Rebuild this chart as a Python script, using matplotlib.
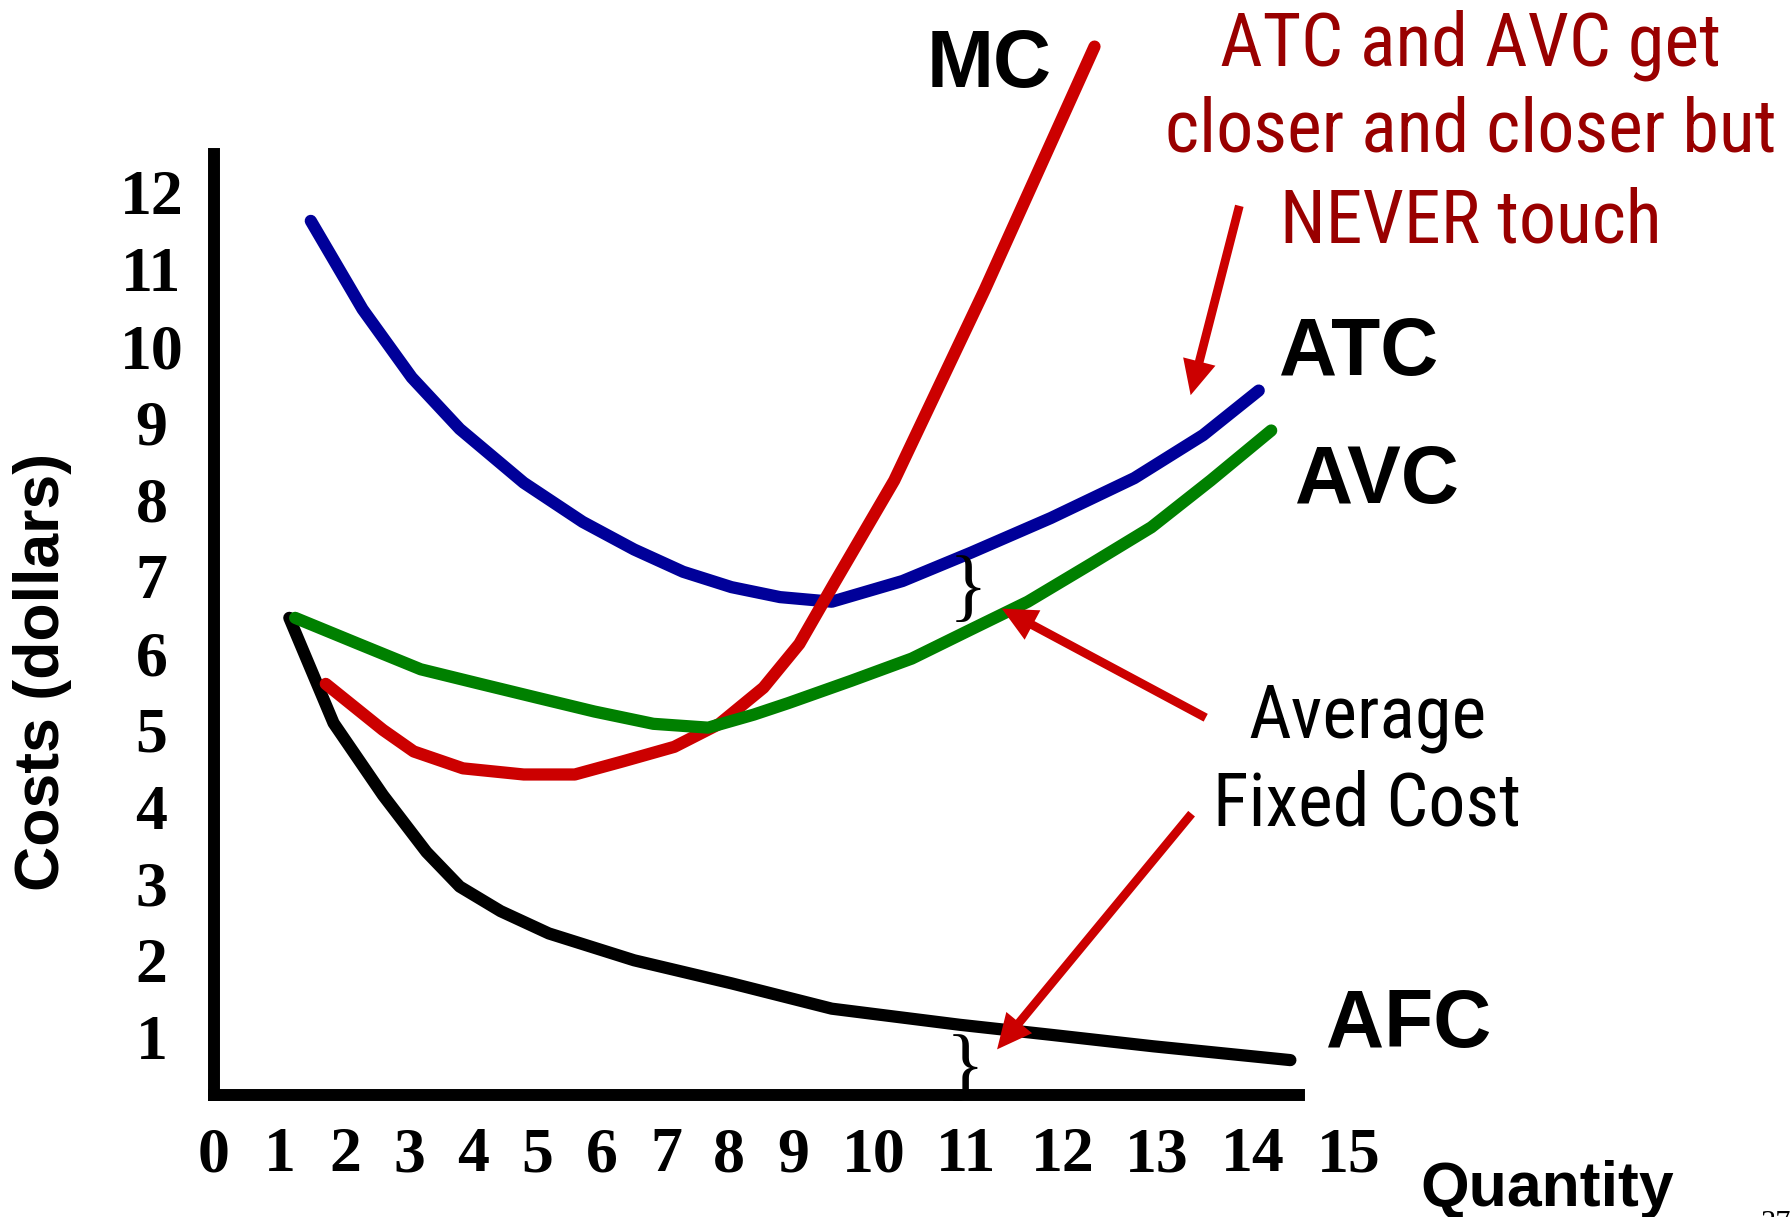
import numpy as np
import matplotlib
matplotlib.use('Agg')
import matplotlib.pyplot as plt
from matplotlib import font_manager

# quantity ticks are printed unevenly along the axis, so the x scale follows them
QTY_TICKS = list(range(16))
QTY_SPACING = [0, 58, 115, 171, 227, 283, 340, 396, 451, 507, 578, 659, 743, 826, 910, 994]
COST_TICKS = list(range(1, 13))

atc_q = [1.47, 2.27, 3.04, 3.79, 4.79, 5.70, 6.50, 7.27, 8.04, 8.80, 9.48, 10.31, 11.05, 11.88, 12.76, 13.48, 14.06]
atc_c = [11.63, 10.48, 9.59, 8.92, 8.22, 7.71, 7.35, 7.06, 6.86, 6.73, 6.67, 6.94, 7.31, 7.76, 8.28, 8.84, 9.42]

avc_q = [1.23, 2.18, 3.18, 4.11, 5.0, 5.88, 6.80, 7.67, 8.39, 8.93, 9.72, 10.41, 11.05, 11.64, 12.30, 12.94, 13.56, 14.19]
avc_c = [6.46, 6.13, 5.79, 5.60, 5.42, 5.24, 5.08, 5.03, 5.20, 5.35, 5.64, 5.93, 6.31, 6.67, 7.16, 7.64, 8.25, 8.90]

mc_q = [1.70, 2.59, 3.07, 3.84, 4.79, 5.58, 6.32, 7.13, 7.85, 8.54, 9.08, 9.51, 10.22, 11.19, 12.34]
mc_c = [5.60, 5.00, 4.72, 4.50, 4.42, 4.42, 4.59, 4.78, 5.08, 5.55, 6.12, 6.91, 8.25, 10.73, 13.90]

afc_q = [1.14, 1.82, 2.59, 3.27, 3.79, 4.43, 5.18, 6.50, 8.04, 9.48, 10.93, 11.88, 12.96, 14.39]
afc_c = [6.46, 5.09, 4.15, 3.41, 2.96, 2.64, 2.35, 2.00, 1.70, 1.37, 1.16, 1.03, 0.88, 0.70]

note_lines = ['ATC and AVC get', 'closer and closer but', 'NEVER touch']
afc_note = ['Average', 'Fixed Cost']

RED = '#cc0000'
DARK_RED = '#990000'
SERIF = ['Liberation Serif', 'DejaVu Serif']
BOLD_SANS = ['Liberation Sans', 'DejaVu Sans']


def pick_narrow():
    # prefer a condensed face for the notes, else plain sans squeezed to width
    names = {f.name for f in font_manager.fontManager.ttflist}
    for name in ('Liberation Sans Narrow', 'Arial Narrow', 'Roboto Condensed',
                 'DejaVu Sans Condensed'):
        if name in names:
            return name, 'normal'
    for f in font_manager.fontManager.ttflist:
        if f.name == 'DejaVu Sans' and f.stretch == 'condensed':
            return 'DejaVu Sans', 'condensed'
    return 'Liberation Sans', 'normal'


NARROW, NARROW_STRETCH = pick_narrow()


def fwd(q):
    return np.interp(q, QTY_TICKS, QTY_SPACING)


def inv(p):
    return np.interp(p, QTY_SPACING, QTY_TICKS)


fig = plt.figure(figsize=(17.92, 12.17), dpi=100)
ax = fig.add_axes([0.1194, 0.1002, 0.6055, 0.7732])
ax.set_xscale('function', functions=(fwd, inv))
ax.set_xlim(0, 14.48)
ax.set_ylim(0.245, 12.5)

line_kw = dict(lw=8.8, solid_capstyle='round', solid_joinstyle='round', clip_on=False)
ax.plot(afc_q, afc_c, color='black', **line_kw)
ax.plot(atc_q, atc_c, color='#000099', **line_kw)
ax.plot(mc_q, mc_c, color=RED, **line_kw)
ax.plot(avc_q, avc_c, color='#008000', **line_kw)

for side in ('top', 'right'):
    ax.spines[side].set_visible(False)
for side in ('left', 'bottom'):
    ax.spines[side].set_linewidth(8.6)

XPAD = 23
ax.set_xticks(QTY_TICKS[:-1])
ax.set_xticklabels([str(q) for q in QTY_TICKS[:-1]])
ax.set_yticks(COST_TICKS)
ax.set_yticklabels([str(c) for c in COST_TICKS])
ax.tick_params(length=0, labelsize=46)
ax.tick_params(axis='x', pad=XPAD)
ax.tick_params(axis='y', pad=45)
for lab in ax.get_xticklabels() + ax.get_yticklabels():
    lab.set_family(SERIF)
    lab.set_fontweight('bold')
for lab in ax.get_yticklabels():
    lab.set_horizontalalignment('center')

# the 15 sits past the end of the axis line
ax.annotate(str(QTY_TICKS[-1]), xy=(1.046, 0), xycoords='axes fraction',
            xytext=(0, -XPAD), textcoords='offset points', ha='center', va='top',
            fontsize=46, fontweight='bold', family=SERIF, annotation_clip=False)

# braces marking the equal gaps
ax.text(11.02, 6.80, '}', ha='center', va='center', fontsize=58, family=SERIF, clip_on=False)
ax.text(10.99, 0.56, '}', ha='center', va='center', fontsize=58, family=SERIF, clip_on=False)

# curve names
name_kw = dict(transform=ax.transAxes, ha='center', va='center', fontsize=58,
               fontweight='bold', family=BOLD_SANS)
ax.text(0.714, 1.094, 'MC', **name_kw)
ax.text(1.055, 0.788, 'ATC', **name_kw)
ax.text(1.072, 0.652, 'AVC', **name_kw)
ax.text(1.101, 0.073, 'AFC', **name_kw)


def note(lines, x, baselines, widest_px, color):
    texts = [ax.text(x, y, s, transform=ax.transAxes, ha='center', va='baseline',
                     fontsize=55, color=color, family=NARROW, fontstretch=NARROW_STRETCH)
             for s, y in zip(lines, baselines)]
    renderer = fig.canvas.get_renderer()
    widest = max(t.get_window_extent(renderer).width for t in texts)
    size = min(58, 55 * widest_px / widest)
    for t in texts:
        t.set_fontsize(size)


note(note_lines, 1.158, [1.0936, 1.0024, 0.9064], 612, DARK_RED)
note(afc_note, 1.063, [0.3803, 0.2868], 308, 'black')

arrow = dict(arrowstyle='simple,head_length=25,head_width=24,tail_width=6.3',
             mutation_scale=1, color=RED, lw=0, shrinkA=0, shrinkB=0)
ax.annotate('', xy=(13.35, 9.36), xytext=(0.945, 0.945), textcoords='axes fraction',
            arrowprops=arrow, annotation_clip=False)
ax.annotate('', xy=(11.37, 6.58), xytext=(0.914, 0.401), textcoords='axes fraction',
            arrowprops=arrow, annotation_clip=False)
ax.annotate('', xy=(11.32, 0.84), xytext=(0.901, 0.299), textcoords='axes fraction',
            arrowprops=arrow, annotation_clip=False)

fig.text(43 / 1792, 1 - 672 / 1217, 'Costs (dollars)', rotation=90, ha='center',
         va='center', fontsize=45, fontweight='bold', family=BOLD_SANS)
fig.text(1547 / 1792, 1 - 1206 / 1217, 'Quantity', ha='center', va='baseline',
         fontsize=45, fontweight='bold', family=BOLD_SANS)
fig.text(1776 / 1792, 1 - 1232 / 1217, '37', ha='center', va='baseline',
         fontsize=22, family=SERIF)

fig.savefig('out.png', dpi=100)
